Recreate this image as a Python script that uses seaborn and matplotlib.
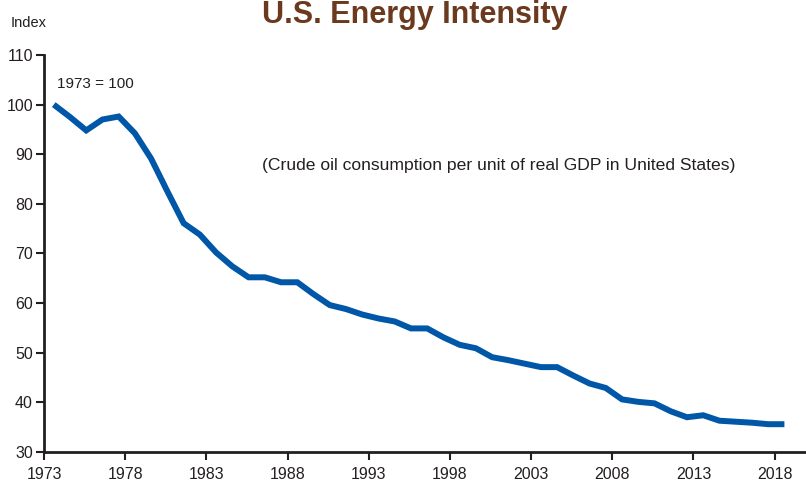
import numpy as np
import matplotlib
matplotlib.use("Agg")
import matplotlib.pyplot as plt
import pandas as pd
import seaborn as sns

# U.S. energy intensity index (1973 = 100)
years = list(range(1973, 2019))
index_values = [100, 97.5, 94.8, 97.0, 97.6, 94.2, 89.1, 82.5, 76.1, 73.8,
                70.2, 67.4, 65.2, 65.2, 64.2, 64.2, 61.8, 59.6, 58.8, 57.7,
                56.9, 56.3, 54.9, 54.9, 53.1, 51.6, 50.9, 49.1, 48.5, 47.8,
                47.1, 47.1, 45.4, 43.8, 42.9, 40.6, 40.1, 39.8, 38.2, 37.0,
                37.4, 36.3, 36.1, 35.9, 35.6, 35.6]
tick_years = [1973, 1978, 1983, 1988, 1993, 1998, 2003, 2008, 2013, 2018]
y_ticks = [30, 40, 50, 60, 70, 80, 90, 100, 110]

df = pd.DataFrame({"year": years, "index": index_values})
# values plotted at mid-year
df["x"] = df["year"] + 0.6

sns.set_style("ticks")
plt.rcParams["font.family"] = ["Liberation Sans", "DejaVu Sans"]

ink = "#231F20"
blue = "#0057A8"

fig = plt.figure(figsize=(8.06, 4.87), dpi=100)
ax = fig.add_axes([0.0546, 0.0719, 0.9442, 0.8152])

sns.lineplot(data=df, x="x", y="index", ax=ax, color=blue, linewidth=4.3)
for line in ax.lines:
    line.set_solid_capstyle("butt")
    line.set_solid_joinstyle("miter")

ax.set_xlim(1973, 2019.87)
ax.set_ylim(30, 110)
ax.set_xticks(tick_years)
ax.set_xticklabels([str(y) for y in tick_years])
ax.set_yticks(y_ticks)
ax.set_xlabel("")
ax.set_ylabel("")

for side in ["top", "right"]:
    ax.spines[side].set_visible(False)
for side in ["left", "bottom"]:
    ax.spines[side].set_color(ink)
    ax.spines[side].set_linewidth(2)
ax.tick_params(axis="both", colors=ink, labelcolor=ink, labelsize=11.5,
               length=6, width=1.5, direction="out")
ax.tick_params(axis="x", pad=5)
ax.tick_params(axis="y", pad=2)

ax.text(1973.8, 103.3, "1973 = 100", fontsize=11, color=ink)
ax.text(1986.4, 86.9, "(Crude oil consumption per unit of real GDP in United States)",
        fontsize=12.6, color=ink)

fig.text(0.013, 0.945, "Index", fontsize=10.5, color=ink)
fig.text(0.514, 0.952, "U.S. Energy Intensity", fontsize=22, fontweight="bold",
         color="#6B3A1E", ha="center", va="baseline")

fig.savefig("out.png", dpi=100)
